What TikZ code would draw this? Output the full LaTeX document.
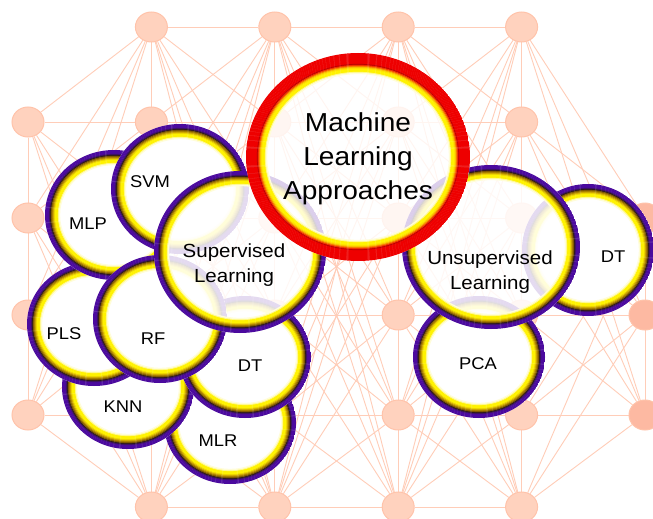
\documentclass[tikz,border=0pt]{standalone}
\usepackage{fontspec}
\setmainfont{Liberation Sans}[FakeStretch=1.08]
\usetikzlibrary{shapes.geometric,backgrounds}

\definecolor{netfill}{HTML}{FFD2BE}
\definecolor{netedge}{HTML}{FFC3AA}
\definecolor{netdark}{HTML}{FDB9A2}
\definecolor{wirecol}{HTML}{FFCDB8}
\definecolor{ringP}{HTML}{4B0A9E}
\definecolor{ringD}{HTML}{2D1820}
\definecolor{ringB}{HTML}{7D5600}
\definecolor{ringG}{HTML}{CDA500}
\definecolor{ringY}{HTML}{FFF200}
\definecolor{mlaR}{HTML}{EE0000}
\definecolor{mlaO}{HTML}{F57A00}

% colour bands of the rings, outside to inside
\def\purplebands{ringP,ringP,ringP,ringP,ringP!60!ringD,ringD,ringB,ringB!50!ringG,ringG,ringG!40!ringY,ringY,ringY,ringY,ringY!45!white,ringY!15!white}
\def\redbands{mlaR,mlaR,mlaR,mlaR,mlaR,mlaR,mlaR,mlaR,mlaR,mlaR,mlaR,mlaR!80!black,mlaR!60!mlaO,mlaO,mlaO!45!ringY,ringY!85!mlaO,ringY,ringY,ringY,ringY!45!white,ringY!15!white}

\begin{document}
\begin{tikzpicture}[x=1pt, y=-1pt,
    neuron/.style={ellipse, draw=netedge, fill=netfill, line width=1pt, minimum width=32, minimum height=30, inner sep=0},
    wire/.style={draw=wirecol, line width=0.9pt},
    bubble/.style n args={3}{ellipse, minimum width=2*#1, minimum height=2*#2, inner sep=0,
        fill=white, fill opacity=0.85,
        path picture={\foreach \c [count=\i] in #3
            \draw[draw=\c, line width=1.3pt] (path picture bounding box.center) ellipse [x radius=#1-\i+0.5, y radius=#2-\i+0.5];}},
    method/.style 2 args={bubble={#1}{#2}{\purplebands}, fill opacity=1},
    cluster/.style 2 args={bubble={#1}{#2}{\purplebands}},
    tag/.style={inner sep=0, font=\fontsize{17}{20}\selectfont},
    group/.style={inner sep=0, align=center, font=\fontsize{19}{25}\selectfont},
    title/.style={inner sep=0, align=center, font=\fontsize{26}{34}\selectfont}]

    \useasboundingbox (0,0) rectangle (653,519);

    % network in the back
    \foreach \c in {1,...,4} \node[neuron] (n\c0) at ({28+123.4*\c},27) {};
    \foreach \c in {0,...,4} \node[neuron] (n\c1) at ({28+123.4*\c},122) {};
    \foreach \r/\y in {2/218,3/315,4/415} {
        \foreach \c in {0,...,4} \node[neuron] (n\c\r) at ({28+123.4*\c},\y) {};
        \node[neuron, fill=netdark] (n5\r) at (645,\y) {};
    }
    \foreach \c in {1,...,4} \node[neuron] (n\c5) at ({28+123.4*\c},507) {};

    \begin{scope}[on background layer]
        \fill[white] (0,0) rectangle (653,519);
        \foreach \ra in {0,...,4} {
            \foreach \ca in {0,...,5} {
                \ifcsname pgf@sh@ns@n\ca\ra\endcsname
                    \pgfmathtruncatemacro\cb{\ca+1}
                    \ifcsname pgf@sh@ns@n\cb\ra\endcsname \draw[wire] (n\ca\ra) -- (n\cb\ra); \fi
                    \pgfmathtruncatemacro\rn{\ra+1}
                    \foreach \rb in {\rn,...,5} {
                        \foreach \dc in {-1,0,1} {
                            \pgfmathtruncatemacro\cc{\ca+\dc}
                            \ifcsname pgf@sh@ns@n\cc\rb\endcsname \draw[wire] (n\ca\ra) -- (n\cc\rb); \fi
                        }
                    }
                \fi
            }
        }
        \foreach \c in {1,...,3} {
            \pgfmathtruncatemacro\cb{\c+1}
            \draw[wire] (n\c5) -- (n\cb5);
        }
    \end{scope}

    % supervised side
    \node[method={66}{61}] (mlr) at (230,423) {};
    \node[tag] (mlrt) at (218,441) {MLR};
    \node[method={66}{62}] (knn) at (128,387) {};
    \node[tag] (knnt) at (123,407) {KNN};
    \node[method={66}{61}] (dtl) at (245,357) {};
    \node[tag] (dtlt) at (250,366) {DT};
    \node[method={67}{62}] (pls) at (94,324) {};
    \node[tag] (plst) at (64,334) {PLS};
    \node[method={69}{65}] (mlp) at (114,215) {};
    \node[tag] (mlpt) at (88,224) {MLP};
    \node[method={69}{65}] (svm) at (180,189) {};
    \node[tag] (svmt) at (150,182) {SVM};
    \node[method={67}{64}] (rf) at (160,319) {};
    \node[tag] (rft) at (153,339) {RF};
    \node[cluster={86}{81}] (sup) at (240,252) {};
    \node[group] (supt) at (234,265) {Supervised\\Learning};

    % unsupervised side
    \node[method={66}{61}] (pca) at (479,357) {};
    \node[tag] (pcat) at (478,364) {PCA};
    \node[method={66}{66}] (dtr) at (588,250) {};
    \node[tag] (dtrt) at (613,257) {DT};
    \node[cluster={89}{82}] (uns) at (491,247) {};
    \node[group] (unst) at (490,272) {Unsupervised\\Learning};

    % root on top
    \node[bubble={112}{104}{\redbands}, fill opacity=0.8] (mla) at (358,157) {};
    \node[title] (mlat) at (358,159) {Machine\\Learning\\Approaches};
\end{tikzpicture}
\end{document}
